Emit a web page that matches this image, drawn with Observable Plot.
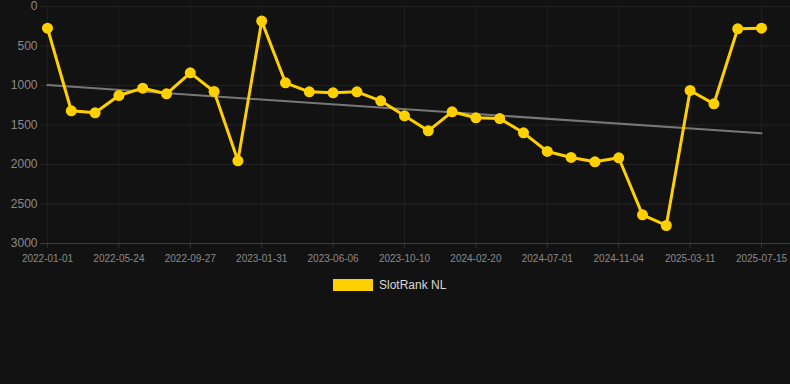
<!DOCTYPE html>
<html>
<head>
<meta charset="utf-8">
<script src="https://cdn.jsdelivr.net/npm/d3@7"></script>
<script src="https://cdn.jsdelivr.net/npm/@observablehq/plot@0.6"></script>
<style>
  html, body { margin: 0; padding: 0; background: #121212; width: 790px; height: 384px; overflow: hidden; }
  #chart { position: absolute; left: 0; top: 0; }
  #legend { position: absolute; left: 333px; top: 278px; display: flex; align-items: center; font-family: "Liberation Sans", Arial, sans-serif; font-size: 12px; color: #d8d8d8; }
  #legend .sw { width: 40px; height: 12px; background: #FFD000; margin-right: 6px; }
</style>
</head>
<body>
<div id="chart"></div>
<div id="legend"><div class="sw"></div><span>SlotRank NL</span></div>
<script>
const dates = ["2022-01-01","2022-02-18","2022-04-07","2022-05-24","2022-07-05","2022-08-16","2022-09-27","2022-11-08","2022-12-20","2023-01-31","2023-03-15","2023-04-25","2023-06-06","2023-07-18","2023-08-29","2023-10-10","2023-11-23","2024-01-07","2024-02-20","2024-04-03","2024-05-17","2024-07-01","2024-08-12","2024-09-23","2024-11-04","2024-12-17","2025-01-28","2025-03-11","2025-04-22","2025-06-03","2025-07-15"];
const ranks = [275,1320,1346,1127,1034,1105,840,1076,1953,185,966,1080,1093,1080,1194,1384,1574,1333,1409,1418,1599,1835,1911,1966,1915,2637,2772,1063,1232,282,274];
const yTicks = [0,500,1000,1500,2000,2500,3000];
const seriesName = "SlotRank NL";

const data = ranks.map((v, i) => ({i, date: dates[i], rank: v}));
// linear regression trend
const n = data.length;
const mx = d3.mean(data, d => d.i), my = d3.mean(data, d => d.rank);
const slope = d3.sum(data, d => (d.i - mx) * (d.rank - my)) / d3.sum(data, d => (d.i - mx) ** 2);
const icpt = my - slope * mx;
const trend = [0, n - 1].map(i => ({i, rank: icpt + slope * i}));
const xTicks = d3.range(0, n, 3);

const chart = Plot.plot({
  width: 790,
  height: 268,
  marginLeft: 40,
  marginRight: 0,
  marginTop: 6,
  marginBottom: 25,
  style: { background: "transparent", fontFamily: "Liberation Sans, Arial, sans-serif" },
  x: { type: "linear", domain: [-0.294, 31.218], label: null },
  y: { domain: [0, 3000], reverse: true, label: null },
  marks: [
    Plot.gridY(yTicks, { stroke: "#ffffff", strokeOpacity: 0.07 }),
    Plot.gridX(xTicks, { stroke: "#ffffff", strokeOpacity: 0.05 }),
    Plot.ruleY([3000], { stroke: "#ffffff", strokeOpacity: 0.12 }),
    Plot.axisY(yTicks, { tickSize: 0, tickPadding: 3, fontSize: 12, color: "#8a8a8a", tickFormat: d => String(d), label: null }),
    Plot.axisX(xTicks, { tickSize: 5, tickPadding: 6, fontSize: 10, color: "#8a8a8a", stroke: "#ffffff", strokeOpacity: 0.12, tickFormat: i => dates[i], label: null }),
    Plot.line(trend, { x: "i", y: "rank", stroke: "#777777", strokeWidth: 2 }),
    Plot.line(data, { x: "i", y: "rank", stroke: "#FFD000", strokeWidth: 3 }),
    Plot.dot(data, { x: "i", y: "rank", r: 5.5, fill: "#FFD000", stroke: "none" })
  ]
});
document.getElementById("chart").appendChild(chart);
</script>
</body>
</html>
